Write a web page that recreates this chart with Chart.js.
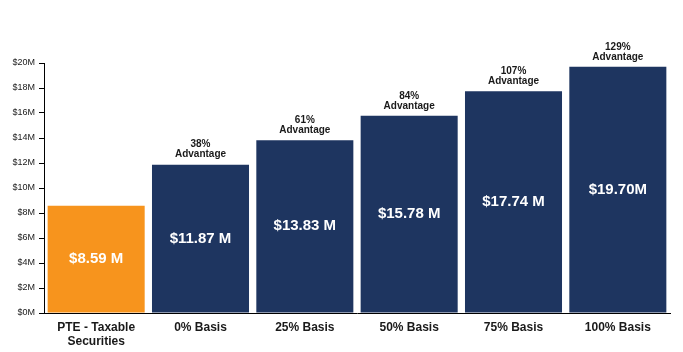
<!DOCTYPE html>
<html>
<head>
<meta charset="utf-8">
<script src="https://cdn.jsdelivr.net/npm/chart.js@4/dist/chart.umd.min.js"></script>
<style>
html,body{margin:0;padding:0;background:#fff;}
#wrap{width:683px;height:352px;}
</style>
</head>
<body>
<div id="wrap"><canvas id="c" width="683" height="352"></canvas></div>
<script>
const categories = [['PTE - Taxable','Securities'], '0% Basis', '25% Basis', '50% Basis', '75% Basis', '100% Basis'];
const values = [8.59, 11.87, 13.83, 15.78, 17.74, 19.70];
const valueLabels = ['$8.59 M', '$11.87 M', '$13.83 M', '$15.78 M', '$17.74 M', '$19.70M'];
const advantagePct = ['', '38%', '61%', '84%', '107%', '129%'];
const advantageWord = ['', 'Advantage', 'Advantage', 'Advantage', 'Advantage', 'Advantage'];
const barColors = ['#F7941D', '#1E3560', '#1E3560', '#1E3560', '#1E3560', '#1E3560'];

const labelPlugin = {
  id: 'barLabels',
  afterDatasetsDraw(chart) {
    const ctx = chart.ctx;
    const meta = chart.getDatasetMeta(0);
    ctx.save();
    ctx.textAlign = 'center';
    ctx.textBaseline = 'middle';
    meta.data.forEach((bar, i) => {
      const mid = (bar.y + bar.base) / 2;
      ctx.fillStyle = '#ffffff';
      ctx.font = 'bold 15px "Liberation Sans", Arial, sans-serif';
      ctx.fillText(valueLabels[i], bar.x, mid);
      if (advantagePct[i]) {
        ctx.fillStyle = '#1a1a1a';
        ctx.font = 'bold 10px "Liberation Sans", Arial, sans-serif';
        ctx.fillText(advantagePct[i], bar.x, bar.y - 20);
        ctx.fillText(advantageWord[i], bar.x, bar.y - 10);
      }
    });
    ctx.restore();
  }
};

new Chart(document.getElementById('c'), {
  type: 'bar',
  data: {
    labels: categories,
    datasets: [{
      data: values,
      backgroundColor: barColors,
      borderWidth: 0,
      categoryPercentage: 1.0,
      barPercentage: 0.93
    }]
  },
  options: {
    responsive: false,
    animation: false,
    layout: { padding: { top: 63, right: 13, left: 0, bottom: 0 } },
    plugins: { legend: { display: false }, tooltip: { enabled: false } },
    scales: {
      x: {
        grid: { display: false, drawTicks: false },
        border: { display: true, color: '#000', width: 1 },
        ticks: {
          color: '#1a1a1a',
          padding: 8,
          maxRotation: 0,
          autoSkip: false,
          font: { family: '"Liberation Sans", Arial, sans-serif', size: 12, weight: 'bold', lineHeight: 1.15 }
        },
        afterFit(scale) { scale.height = 39; }
      },
      y: {
        min: 0, max: 20,
        grid: { display: true, drawOnChartArea: false, drawTicks: true, tickLength: 5, color: '#000' },
        border: { display: true, color: '#000', width: 1 },
        ticks: {
          stepSize: 2,
          padding: 4,
          color: '#1a1a1a',
          font: { family: '"Liberation Sans", Arial, sans-serif', size: 9 },
          callback: (v) => '$' + v + 'M'
        },
        afterFit(scale) { scale.width = 44; }
      }
    }
  },
  plugins: [labelPlugin]
});
</script>
</body>
</html>
